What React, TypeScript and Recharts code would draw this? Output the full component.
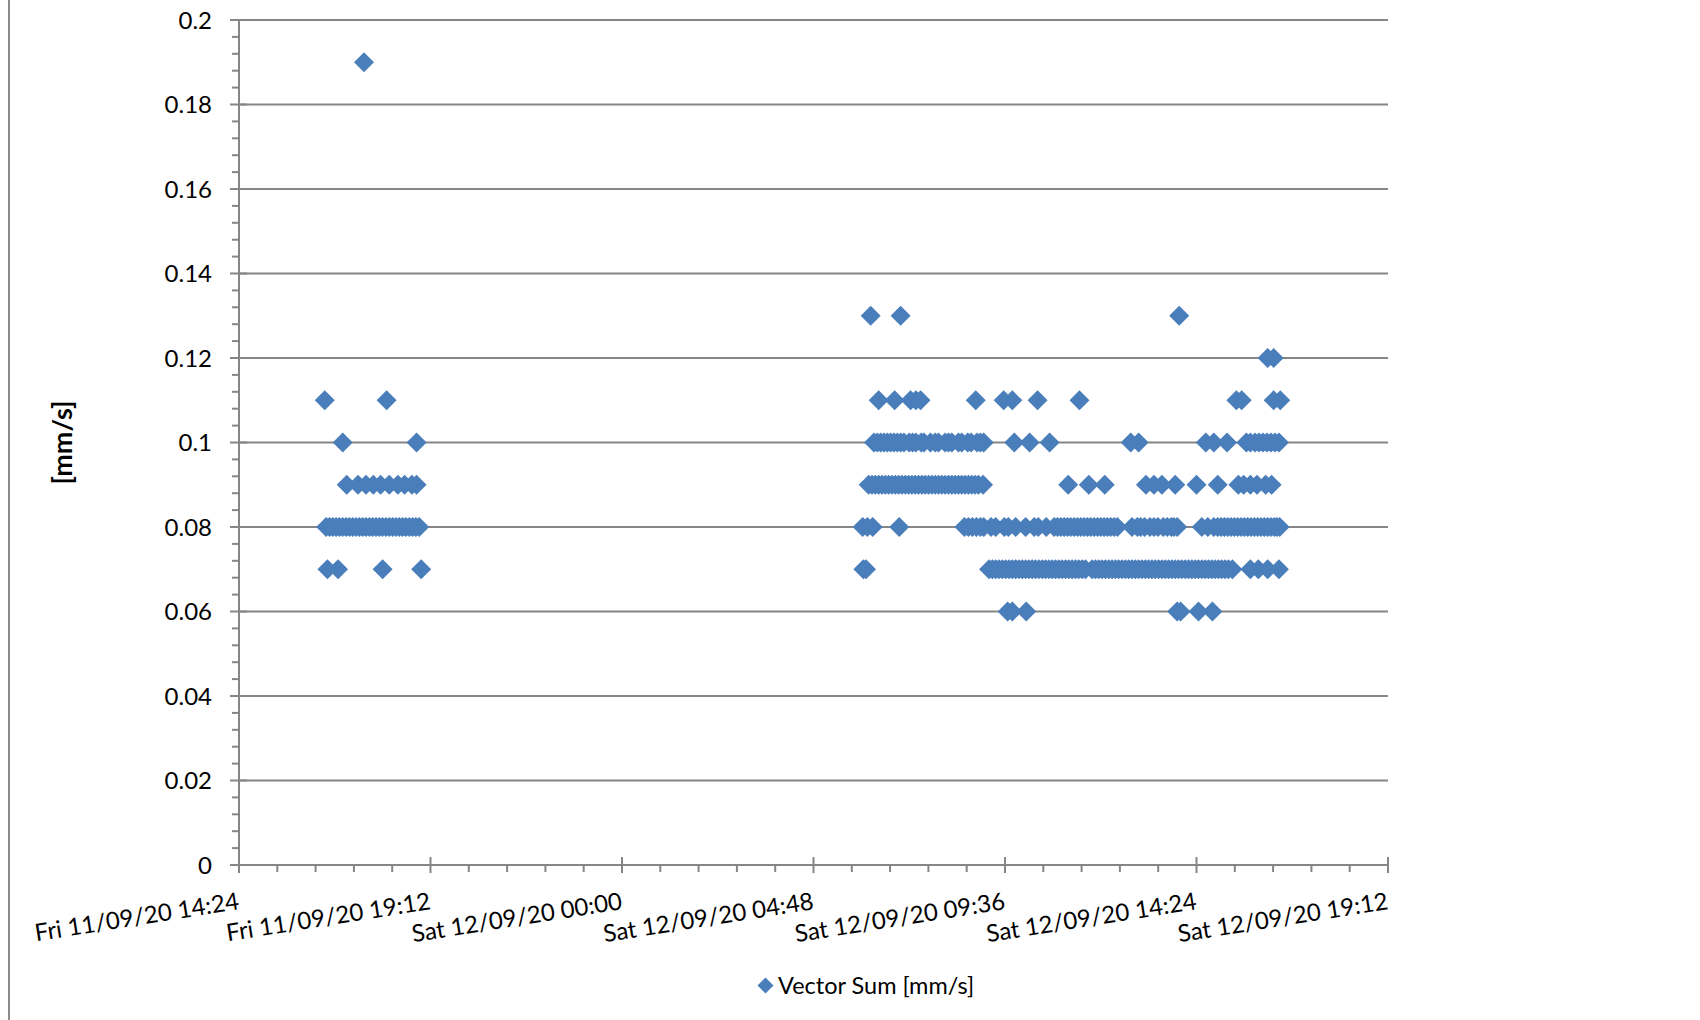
import React from "react";
import { ScatterChart, Scatter, XAxis, YAxis, CartesianGrid, Legend } from "recharts";

// Spreadsheet serial days
const FRI_DAY = 44085; // Fri 11/09/2020
const SAT_DAY = 44086; // Sat 12/09/2020

// X axis (days), labelled major ticks
const xMajorTicks = [44085.6, 44085.8, 44086.0, 44086.2, 44086.4, 44086.6, 44086.8];
const xTickLabels = [
  "Fri 11/09/20 14:24",
  "Fri 11/09/20 19:12",
  "Sat 12/09/20 00:00",
  "Sat 12/09/20 04:48",
  "Sat 12/09/20 09:36",
  "Sat 12/09/20 14:24",
  "Sat 12/09/20 19:12",
];
const yMajorTicks = [0, 0.02, 0.04, 0.06, 0.08, 0.1, 0.12, 0.14, 0.16, 0.18, 0.2];
const yTickLabels = ["0", "0.02", "0.04", "0.06", "0.08", "0.1", "0.12", "0.14", "0.16", "0.18", "0.2"];

// Friday readings (clock times) grouped by Vector Sum value [mm/s]
const fri007 = ["16:37", "16:53", "18:00", "18:58"];
const fri008 = ["16:35", "16:40", "16:45", "16:50", "16:55", "17:00", "17:05", "17:10", "17:15", "17:20", "17:25", "17:30", "17:35", "17:40", "17:45", "17:50", "17:55", "18:00", "18:05", "18:10", "18:15", "18:20", "18:25", "18:30", "18:35", "18:40", "18:45", "18:50", "18:55"];
const fri009 = ["17:06", "17:23", "17:35", "17:46", "17:57", "18:10", "18:23", "18:33", "18:44", "18:51"];
const fri010 = ["17:00", "18:51"];
const fri011 = ["16:33", "18:06"];
const fri019 = ["17:32"];

// Saturday readings (clock times) grouped by Vector Sum value [mm/s]
const sat006 = ["09:40", "09:47", "10:08", "13:55", "14:00", "14:27", "14:48"];
const sat007 = ["06:03", "06:07", "09:12", "09:17", "09:22", "09:27", "09:32", "09:37", "09:42", "09:47", "09:52", "09:57", "10:02", "10:07", "10:12", "10:17", "10:22", "10:27", "10:32", "10:37", "10:42", "10:47", "10:52", "10:57", "11:02", "11:07", "11:12", "11:17", "11:22", "11:27", "11:32", "11:37", "11:47", "11:52", "11:57", "12:02", "12:07", "12:12", "12:17", "12:22", "12:27", "12:32", "12:37", "12:42", "12:47", "12:52", "12:57", "13:02", "13:07", "13:12", "13:17", "13:22", "13:27", "13:32", "13:37", "13:42", "13:47", "13:52", "13:57", "14:02", "14:07", "14:12", "14:17", "14:22", "14:27", "14:32", "14:37", "14:42", "14:47", "14:52", "14:57", "15:02", "15:07", "15:12", "15:18", "15:45", "15:57", "16:11", "16:28"];
const sat008 = ["06:02", "06:09", "06:17", "06:57", "08:35", "08:41", "08:47", "08:53", "08:59", "09:04", "09:15", "09:22", "09:35", "09:41", "09:52", "10:07", "10:20", "10:26", "10:38", "10:50", "10:55", "11:00", "11:05", "11:10", "11:15", "11:20", "11:25", "11:30", "11:35", "11:40", "11:45", "11:50", "11:55", "12:00", "12:05", "12:10", "12:15", "12:20", "12:25", "12:47", "12:55", "13:00", "13:06", "13:14", "13:20", "13:26", "13:34", "13:40", "13:46", "13:50", "13:55", "14:32", "14:41", "14:50", "14:56", "15:01", "15:06", "15:11", "15:16", "15:21", "15:26", "15:31", "15:36", "15:41", "15:46", "15:51", "15:56", "16:01", "16:06", "16:11", "16:16", "16:21", "16:25", "16:29"];
const sat009 = ["06:11", "06:16", "06:21", "06:26", "06:31", "06:36", "06:41", "06:46", "06:51", "06:56", "07:01", "07:06", "07:11", "07:16", "07:21", "07:26", "07:31", "07:36", "07:41", "07:46", "07:51", "07:56", "08:01", "08:06", "08:11", "08:16", "08:21", "08:26", "08:31", "08:36", "08:41", "08:46", "08:51", "08:56", "09:03", "11:11", "11:42", "12:06", "13:08", "13:20", "13:32", "13:52", "14:24", "14:56", "15:27", "15:35", "15:45", "15:55", "16:08", "16:17"];
const sat010 = ["06:19", "06:24", "06:29", "06:34", "06:39", "06:44", "06:49", "06:54", "06:59", "07:04", "07:12", "07:17", "07:22", "07:30", "07:34", "07:44", "07:51", "07:56", "08:06", "08:11", "08:16", "08:26", "08:31", "08:40", "08:45", "08:54", "08:59", "09:04", "09:50", "10:13", "10:43", "12:45", "12:57", "14:38", "14:50", "15:10", "15:39", "15:45", "15:52", "15:58", "16:04", "16:10", "16:16", "16:22", "16:28"];
const sat011 = ["06:26", "06:50", "07:14", "07:22", "07:29", "08:52", "09:34", "09:47", "10:25", "11:28", "15:24", "15:32", "16:20", "16:30"];
const sat012 = ["16:11", "16:20"];
const sat013 = ["06:14", "06:59", "13:58"];

const groups: [number, number, string[]][] = [
  [FRI_DAY, 0.07, fri007],
  [FRI_DAY, 0.08, fri008],
  [FRI_DAY, 0.09, fri009],
  [FRI_DAY, 0.1, fri010],
  [FRI_DAY, 0.11, fri011],
  [FRI_DAY, 0.19, fri019],
  [SAT_DAY, 0.06, sat006],
  [SAT_DAY, 0.07, sat007],
  [SAT_DAY, 0.08, sat008],
  [SAT_DAY, 0.09, sat009],
  [SAT_DAY, 0.1, sat010],
  [SAT_DAY, 0.11, sat011],
  [SAT_DAY, 0.12, sat012],
  [SAT_DAY, 0.13, sat013],
];

const toSerial = (day: number, hhmm: string) => {
  const [h, m] = hhmm.split(":").map(Number);
  return day + (h * 60 + m) / 1440;
};

const points = groups.flatMap(([day, value, times]) =>
  times.map((t) => ({ x: toSerial(day, t), y: value }))
);

// minor tick positions (5 subdivisions per major interval)
const xAllTicks: number[] = [];
for (let i = 0; i < xMajorTicks.length - 1; i++) {
  for (let j = 0; j < 5; j++) {
    xAllTicks.push(Math.round((xMajorTicks[i] + ((xMajorTicks[i + 1] - xMajorTicks[i]) * j) / 5) * 1e6) / 1e6);
  }
}
xAllTicks.push(xMajorTicks[xMajorTicks.length - 1]);

const yAllTicks: number[] = [];
for (let i = 0; i < yMajorTicks.length - 1; i++) {
  for (let j = 0; j < 5; j++) {
    yAllTicks.push(Math.round((yMajorTicks[i] + ((yMajorTicks[i + 1] - yMajorTicks[i]) * j) / 5) * 1e6) / 1e6);
  }
}
yAllTicks.push(yMajorTicks[yMajorTicks.length - 1]);

const AXIS_COLOR = "#868686";
const MARKER_COLOR = "#4A7EBB";
const FONT = "Lato, 'Open Sans', sans-serif";

const majorIndex = (arr: number[], v: number) => arr.findIndex((m) => Math.abs(m - v) < 1e-6);

const XTick = (props: any) => {
  const { x, y, payload } = props;
  const mi = majorIndex(xMajorTicks, payload.value);
  const major = mi >= 0;
  const ty = y + 44;
  return (
    <g>
      <line x1={x} x2={x} y1={major ? y - 8 : y} y2={major ? y + 8 : y + 7} stroke={AXIS_COLOR} strokeWidth={2} />
      {major && (
        <text
          x={x + 1}
          y={ty}
          textAnchor="end"
          transform={`rotate(-9, ${x + 1}, ${ty})`}
          fontFamily={FONT}
          fontSize={24}
          fill="#000"
        >
          {xTickLabels[mi]}
        </text>
      )}
    </g>
  );
};

const YTick = (props: any) => {
  const { x, y, payload } = props;
  const mi = majorIndex(yMajorTicks, payload.value);
  const major = mi >= 0;
  return (
    <g>
      <line x1={major ? x - 9 : x - 7} x2={major ? x + 8 : x} y1={y} y2={y} stroke={AXIS_COLOR} strokeWidth={2} />
      {major && (
        <text x={x - 27} y={y} dy="0.36em" textAnchor="end" fontFamily={FONT} fontSize={24} fill="#000">
          {yTickLabels[mi]}
        </text>
      )}
    </g>
  );
};

const Diamond = (props: any) => {
  const { cx, cy } = props;
  if (cx == null || cy == null) return <g />;
  const r = 10;
  return <path d={`M${cx},${cy - r}L${cx + r},${cy}L${cx},${cy + r}L${cx - r},${cy}Z`} fill={MARKER_COLOR} />;
};

const LegendContent = () => (
  <div style={{ display: "flex", alignItems: "center", height: "100%", fontFamily: FONT, fontSize: 23.5, color: "#000", whiteSpace: "nowrap" }}>
    <svg width={17} height={17} style={{ marginRight: 4 }}>
      <path d="M8.5,0.5L16.5,8.5L8.5,16.5L0.5,8.5Z" fill={MARKER_COLOR} />
    </svg>
    <span>Vector Sum [mm/s]</span>
  </div>
);

export default function App() {
  return (
    <div style={{ position: "absolute", left: 0, top: 0, width: 1700, height: 1020, background: "#fff" }}>
      <div style={{ position: "absolute", left: 8, top: 0, width: 2, height: 1020, background: "#8c8c8c" }} />
      <ScatterChart width={1700} height={1020} margin={{ top: 20, right: 312, bottom: 15, left: 0 }}>
        <CartesianGrid
          vertical={false}
          horizontalValues={yMajorTicks}
          stroke={AXIS_COLOR}
          strokeWidth={2}
        />
        <XAxis
          type="number"
          dataKey="x"
          domain={[xMajorTicks[0], xMajorTicks[xMajorTicks.length - 1]]}
          ticks={xAllTicks}
          interval={0}
          height={100}
          tickSize={0}
          tickMargin={0}
          tickLine={false}
          axisLine={{ stroke: AXIS_COLOR, strokeWidth: 2 }}
          tick={<XTick />}
          allowDataOverflow
        />
        <YAxis
          type="number"
          dataKey="y"
          domain={[0, 0.2]}
          ticks={yAllTicks}
          interval={0}
          width={239}
          tickSize={0}
          tickMargin={0}
          tickLine={false}
          axisLine={{ stroke: AXIS_COLOR, strokeWidth: 2 }}
          tick={<YTick />}
          allowDataOverflow
          label={{
            value: "[mm/s]",
            angle: -90,
            position: "center",
            dx: -57,
            style: { fontFamily: FONT, fontSize: 27, fontWeight: 700, fill: "#000" },
          }}
        />
        <Legend
          verticalAlign="bottom"
          height={40}
          wrapperStyle={{ left: 757, width: 280, bottom: 15 }}
          content={<LegendContent />}
        />
        <Scatter
          name="Vector Sum [mm/s]"
          data={points}
          fill={MARKER_COLOR}
          shape={Diamond}
          isAnimationActive={false}
        />
      </ScatterChart>
    </div>
  );
}
